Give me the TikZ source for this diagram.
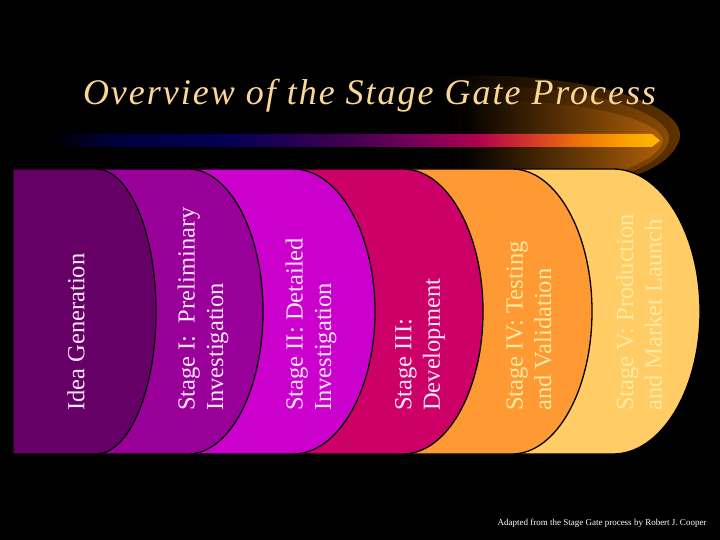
\documentclass[tikz,border=0pt]{standalone}
\usepackage{fontspec}
\setmainfont{Liberation Serif}
\newfontfamily\titleface[LetterSpace=5.5]{Liberation Serif}
\definecolor{ideapurple}{RGB}{102, 0, 102}
\definecolor{stageonepurple}{RGB}{153, 0, 153}
\definecolor{stagetwomagenta}{RGB}{204, 0, 204}
\definecolor{stagethreepink}{RGB}{204, 0, 102}
\definecolor{stagefourorange}{RGB}{255, 153, 51}
\definecolor{stagefivegold}{RGB}{255, 204, 102}
\definecolor{titlecream}{RGB}{250, 215, 150}
\definecolor{palepink}{RGB}{255, 230, 255}
\definecolor{paleyellow}{RGB}{255, 235, 160}
\definecolor{swooshdark}{RGB}{100, 52, 0}
\definecolor{swooshmid}{RGB}{140, 76, 5}
\definecolor{swooshlight}{RGB}{175, 96, 10}
\definecolor{barnavy}{RGB}{0, 0, 60}
\definecolor{barblue}{RGB}{5, 0, 85}
\definecolor{barplum}{RGB}{70, 0, 80}
\definecolor{barberry}{RGB}{120, 0, 90}
\definecolor{barred}{RGB}{175, 0, 80}
\definecolor{barcrimson}{RGB}{210, 50, 45}
\definecolor{barorange}{RGB}{235, 110, 10}
\definecolor{baramber}{RGB}{250, 160, 0}
\definecolor{baryellow}{RGB}{255, 185, 0}
\usetikzlibrary{positioning}
\pgfdeclarehorizontalshading{barshade}{100bp}{color(0bp)=(black); color(25bp)=(black);
  color(30bp)=(barnavy); color(40bp)=(barblue); color(50bp)=(barplum); color(55bp)=(barberry);
  color(60bp)=(barred); color(64bp)=(barcrimson); color(68bp)=(barorange); color(72bp)=(baramber);
  color(75bp)=(baryellow); color(100bp)=(baryellow)}

\begin{document}
\begin{tikzpicture}[x=1pt, y=-1pt,
  panel/.style={draw=black, line width=1.3pt},
  stagetext/.style={rotate=90, anchor=west, align=left, inner sep=0pt,
                    font=\fontsize{24.5}{28.5}\selectfont},
  swoosh/.style={left color=black},
]
\fill[black] (0,0) rectangle (720,540);
\useasboundingbox (0,0) rectangle (720,540);

% Swoosh behind the title
\shade[swoosh, middle color=swooshdark!80!black, right color=swooshdark] (440,76)
  .. controls (585,70) and (692,105) .. (679,141)
  .. controls (672,160) and (650,172) .. (620,180) -- (440,180) -- cycle;
\shade[swoosh, middle color=swooshmid!75!black, right color=swooshmid] (450,86)
  .. controls (585,82) and (674,112) .. (669,141)
  .. controls (664,157) and (645,168) .. (615,178) -- (450,178) -- cycle;
\shade[swoosh, middle color=swooshlight!70!black, right color=swooshlight] (462,100)
  .. controls (585,98) and (662,120) .. (663,141)
  .. controls (660,154) and (640,165) .. (610,175) -- (462,175) -- cycle;
\shade[shading=barshade] (50,134) -- (652,134) -- (660,140.5) -- (652,147) -- (50,147) -- cycle;

% Title
\node[font=\titleface\itshape\fontsize{36}{40}\selectfont, titlecream, anchor=base] (title)
  at (369.5,105) {Overview of the Stage Gate Process};

% Panels, back to front
\filldraw[panel, fill=stagefivegold] (13,169) -- (613,169)
  arc[start angle=90, end angle=-90, x radius=87pt, y radius=142.5pt] -- (13,454) -- cycle;
\filldraw[panel, fill=stagefourorange] (13,169) -- (512,169)
  arc[start angle=90, end angle=-90, x radius=80pt, y radius=142.5pt] -- (13,454) -- cycle;
\filldraw[panel, fill=stagethreepink] (13,169) -- (403,169)
  arc[start angle=90, end angle=-90, x radius=80pt, y radius=142.5pt] -- (13,454) -- cycle;
\filldraw[panel, fill=stagetwomagenta] (13,169) -- (293,169)
  arc[start angle=90, end angle=-90, x radius=82pt, y radius=142.5pt] -- (13,454) -- cycle;
\filldraw[panel, fill=stageonepurple] (13,169) -- (188,169)
  arc[start angle=90, end angle=-90, x radius=75pt, y radius=142.5pt] -- (13,454) -- cycle;
\filldraw[panel, fill=ideapurple] (13,169) -- (96,169)
  arc[start angle=90, end angle=-90, x radius=60pt, y radius=142.5pt] -- (13,454) -- cycle;

% Stage labels
\node[stagetext, palepink] (idea) at (76,411) {Idea Generation};
\node[stagetext, palepink] (stage1) at (203,411) {Stage I:\ \ Preliminary\\Investigation};
\node[stagetext, palepink] (stage2) at (311,411) {Stage II: Detailed\\Investigation};
\node[stagetext, palepink] (stage3) at (420,411) {Stage III:\\Development};
\node[stagetext, paleyellow] (stage4) at (529,411) {Stage IV: Testing\\and Validation};
\node[stagetext, paleyellow] (stage5) at (639,411) {Stage V: Production\\and Market Launch};

% Source
\node[font=\fontsize{9}{10}\selectfont, white] (source) at (602,523)
  {Adapted from the Stage Gate process by Robert J. Cooper};
\end{tikzpicture}
\end{document}
